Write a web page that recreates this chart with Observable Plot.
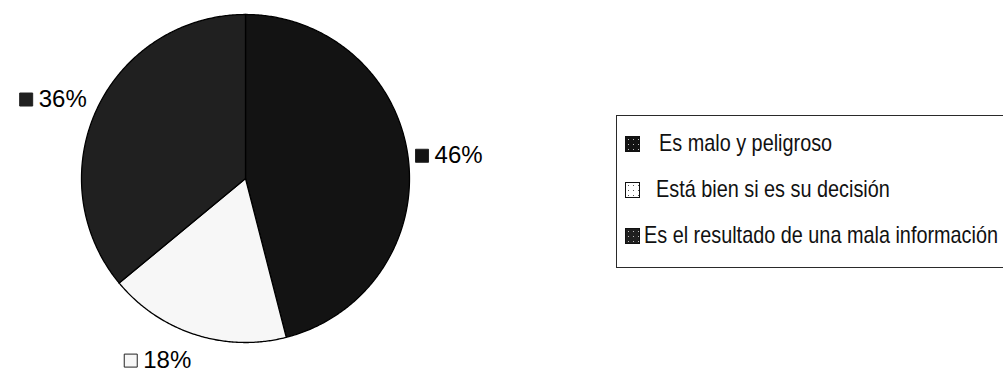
<!DOCTYPE html>
<html><head><meta charset="utf-8">
<script src="https://cdn.jsdelivr.net/npm/d3@7"></script>
<script src="https://cdn.jsdelivr.net/npm/@observablehq/plot@0.6"></script>
<style>
body{margin:0;background:#fff;}
#wrap{position:relative;width:1003px;height:373px;overflow:hidden;}
#legend{position:absolute;left:616px;top:115px;width:400px;height:153px;border:1.5px solid #2a2a2a;box-sizing:border-box;background:#fff;font-family:'Liberation Sans',Arial,sans-serif;font-size:24px;color:#111;}
.row{position:absolute;left:0;white-space:nowrap;}
.sw{position:absolute;width:15px;height:16px;box-sizing:border-box;border:1px solid #111;background-size:5px 5px;}
.tx{position:absolute;line-height:1;transform-origin:0 50%;}
</style></head>
<body><div id="wrap"></div>
<script>
// ---- data ----
const categories = ["Es malo y peligroso", "Está bien si es su decisión", "Es el resultado de una mala información"];
const values = [46, 18, 36];
const sliceColors = ["#131313", "#f7f7f7", "#202020"];

// ---- layout ----
const W = 1003, H = 373;
const cx = 245, cy = 178, R = 164;
const labelSize = 24;
const labelFont = labelSize + "px 'Liberation Sans', Arial, sans-serif";

const rows = categories.map((c, i) => ({cat: c, value: values[i]}));
const arcs = d3.pie().sort(null).value(d => d.value)(rows);

// slice outlines in radius units
const pts = [];
arcs.forEach(a => {
  const cat = a.data.cat;
  pts.push({cat, x: 0, y: 0});
  const n = Math.max(2, Math.ceil((a.endAngle - a.startAngle) / (Math.PI / 360)));
  for (let k = 0; k <= n; k++) {
    const t = a.startAngle + (a.endAngle - a.startAngle) * k / n;
    pts.push({cat, x: Math.sin(t), y: -Math.cos(t)});
  }
  pts.push({cat, x: 0, y: 0});
});

// labels
const ctx = document.createElement("canvas").getContext("2d");
ctx.font = labelFont;
const sw = 13, gap = 6;
const labels = arcs.map(a => {
  const m = (a.startAngle + a.endAngle) / 2;
  const s = Math.sin(m), c = Math.cos(m);
  const k = s >= 0 ? 1.045 : 1.07;
  const text = a.data.value + "%";
  const tw = ctx.measureText(text).width;
  const boxW = sw + gap + tw;
  const pxPix = cx + s * R * k;
  const pyPix = cy - c * R * k;
  const left = s >= 0 ? pxPix : pxPix - boxW;
  const center = pyPix - c * (c < 0 ? 16 : 10);
  return {
    cat: a.data.cat, text,
    sx: (left + sw / 2 - cx) / R, tx: (left + sw + gap - cx) / R,
    y: (center - cy) / R
  };
});

const plot = Plot.plot({
  width: W, height: H,
  margin: 0,
  x: {domain: [-cx / R, (W - cx) / R], range: [0, W], axis: null},
  y: {domain: [-cy / R, (H - cy) / R], range: [0, H], axis: null},
  color: {domain: categories, range: sliceColors},
  style: {background: "#fff"},
  marks: [
    Plot.line(pts, {x: "x", y: "y", z: "cat", fill: "cat", stroke: "#000", strokeWidth: 1.3, curve: "linear-closed"}),
    Plot.dot(labels, {x: "sx", y: "y", fill: "cat", stroke: "#222", strokeWidth: 1, symbol: "square", r: sw / 1.772}),
    Plot.text(labels, {x: "tx", y: "y", text: "text", textAnchor: "start", lineAnchor: "middle", fontSize: labelSize, fontFamily: "'Liberation Sans', Arial, sans-serif", fill: "#000"})
  ]
});

const wrap = document.getElementById("wrap");
wrap.appendChild(plot);

// legend (HTML overlay beside the pie), condensed to the reference's narrow face
const legend = document.createElement("div");
legend.id = "legend";
const rowTop = [28, 74, 120];
const textLeft = [42, 39, 27];
const lctx = document.createElement("canvas").getContext("2d");
lctx.font = "24px 'Liberation Sans', Arial, sans-serif";
const squeeze = 354 / lctx.measureText(categories[2]).width;
const dots = ["radial-gradient(circle, #bbb 0.7px, transparent 1px)", "radial-gradient(circle, #555 0.6px, transparent 1px)", "radial-gradient(circle, #bbb 0.7px, transparent 1px)"];
categories.forEach((c, i) => {
  const row = document.createElement("div");
  row.className = "row";
  row.style.top = rowTop[i] + "px";
  const s = document.createElement("div");
  s.className = "sw";
  s.style.left = "8px"; s.style.top = "-8px";
  s.style.backgroundColor = i === 1 ? "#fff" : sliceColors[i];
  s.style.backgroundImage = dots[i];
  const t = document.createElement("div");
  t.className = "tx";
  t.style.left = textLeft[i] + "px"; t.style.top = "-13px";
  t.style.transform = "scaleX(" + squeeze + ")";
  t.textContent = c;
  row.appendChild(s); row.appendChild(t);
  legend.appendChild(row);
});
wrap.appendChild(legend);
</script>
</body></html>
